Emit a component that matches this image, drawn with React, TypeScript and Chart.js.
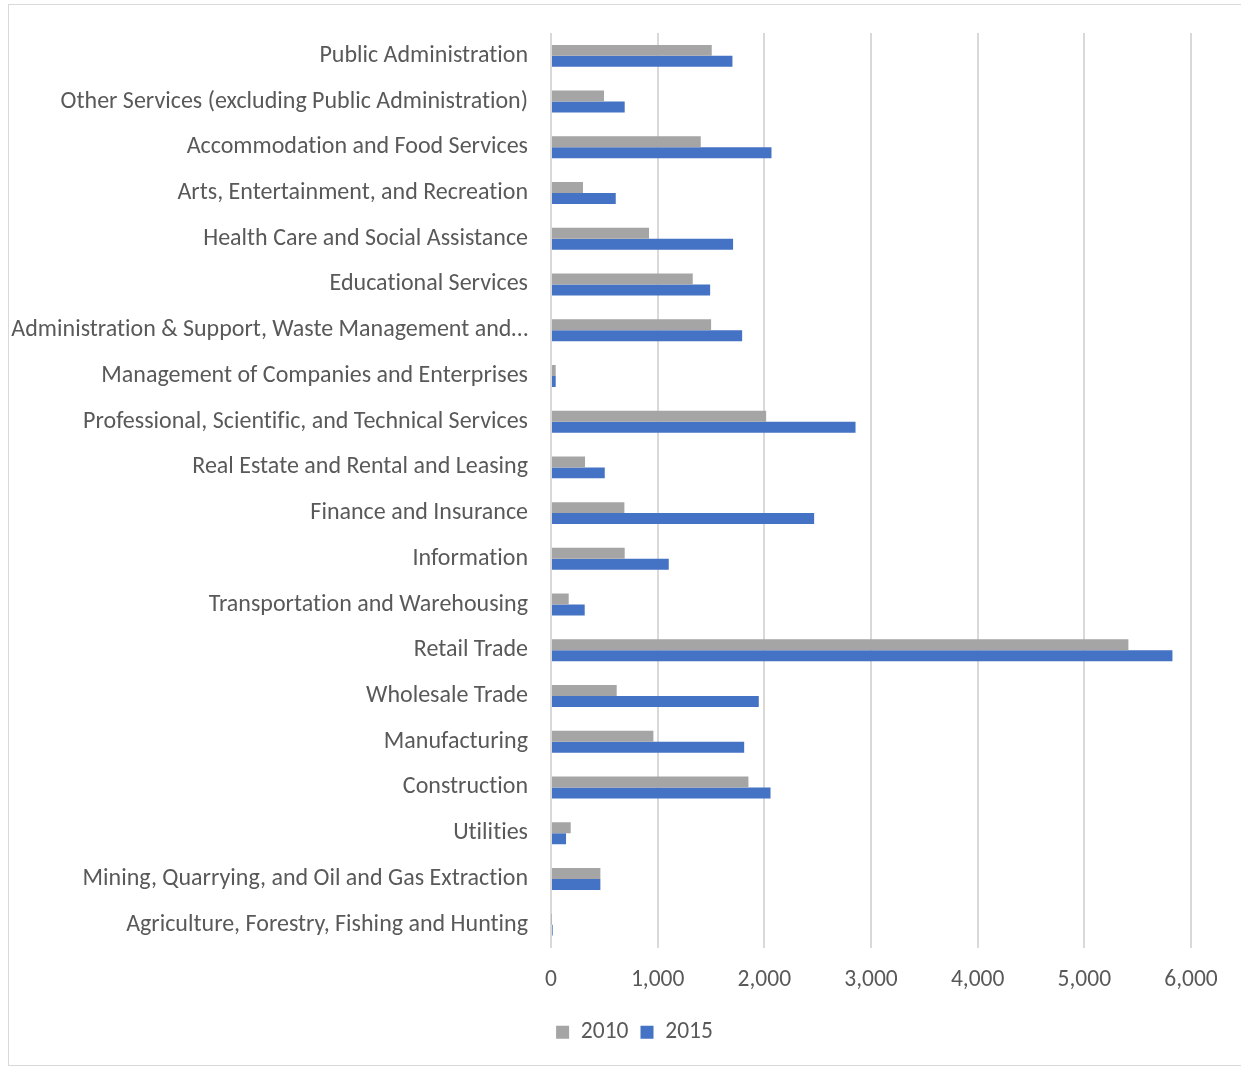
import React, { useEffect, useRef } from "react";
import { Chart, registerables } from "chart.js";

Chart.register(...registerables);

const categories: string[] = [
  "Public Administration",
  "Other Services (excluding Public Administration)",
  "Accommodation and Food Services",
  "Arts, Entertainment, and Recreation",
  "Health Care and Social Assistance",
  "Educational Services",
  "Administration & Support, Waste Management and…",
  "Management of Companies and Enterprises",
  "Professional, Scientific, and Technical Services",
  "Real Estate and Rental and Leasing",
  "Finance and Insurance",
  "Information",
  "Transportation and Warehousing",
  "Retail Trade",
  "Wholesale Trade",
  "Manufacturing",
  "Construction",
  "Utilities",
  "Mining, Quarrying, and Oil and Gas Extraction",
  "Agriculture, Forestry, Fishing and Hunting",
];

const values2010: number[] = [
  1507, 497, 1404, 300, 919, 1329, 1501, 44, 2017, 319, 688, 691, 166, 5413,
  616, 960, 1851, 185, 463, 4,
];

const values2015: number[] = [
  1701, 691, 2067, 607, 1707, 1492, 1792, 44, 2855, 504, 2467, 1104, 316, 5826,
  1948, 1811, 2058, 141, 463, 16,
];

const seriesNames: string[] = ["2010", "2015"];
const xTicks: number[] = [0, 1000, 2000, 3000, 4000, 5000, 6000];

const FONT = "Carlito, Lato, 'Open Sans', sans-serif";
const TEXT = "#595959";

const noLigatures = {
  id: "noLigatures",
  beforeDraw(chart: any) {
    try {
      (chart.ctx as any).textRendering = "optimizeSpeed";
    } catch (e) {}
  },
};

const legendShift = {
  id: "legendShift",
  afterLayout(chart: any) {
    const lg = chart.legend;
    if (lg) {
      lg.left += 39;
      lg.right += 39;
    }
  },
};

export default function App() {
  const ref = useRef<HTMLCanvasElement | null>(null);

  useEffect(() => {
    if (!ref.current) return;
    document.body.style.margin = "0";
    const chart = new Chart(ref.current, {
      type: "bar",
      data: {
        labels: categories,
        datasets: [
          {
            label: seriesNames[0],
            data: values2010,
            backgroundColor: "#A5A5A5",
            categoryPercentage: 0.48,
            barPercentage: 1,
          },
          {
            label: seriesNames[1],
            data: values2015,
            backgroundColor: "#4472C4",
            categoryPercentage: 0.48,
            barPercentage: 1,
          },
        ],
      },
      plugins: [noLigatures, legendShift],
      options: {
        indexAxis: "y",
        animation: false,
        responsive: false,
        maintainAspectRatio: false,
        layout: { padding: { left: 0, right: 50, top: 33, bottom: 13 } },
        plugins: {
          tooltip: { enabled: false },
          legend: {
            position: "bottom",
            labels: {
              font: { family: FONT, size: 23.5 },
              color: TEXT,
              boxWidth: 13,
              boxHeight: 13,
              padding: 12,
            },
          },
        },
        scales: {
          x: {
            min: 0,
            max: 6000,
            afterBuildTicks: (scale: any) => {
              scale.ticks = xTicks.map((v) => ({ value: v }));
            },
            afterFit: (scale: any) => {
              scale.height = 61;
            },
            grid: { color: "#D9D9D9", lineWidth: 2, drawTicks: false },
            border: { display: false },
            ticks: {
              color: TEXT,
              font: { family: FONT, size: 23.5 },
              padding: 19,
              callback: (v: any) => Number(v).toLocaleString("en-US"),
            },
          },
          y: {
            afterFit: (scale: any) => {
              scale.width = 551;
              scale.paddingTop = 0;
              scale.paddingBottom = 0;
            },
            grid: { display: false, drawTicks: false },
            border: { display: false },
            ticks: {
              color: TEXT,
              font: { family: FONT, size: 24 },
              padding: 23,
              autoSkip: false,
            },
          },
        },
      },
    });
    return () => chart.destroy();
  }, []);

  return (
    <div style={{ position: "relative", width: 1241, height: 1067, background: "#fff" }}>
      <div
        style={{
          position: "absolute",
          left: 8,
          top: 4,
          width: 1240,
          height: 1062,
          border: "1px solid #D9D9D9",
          boxSizing: "border-box",
        }}
      />
      <canvas
        ref={ref}
        width={1241}
        height={1067}
        style={{ position: "absolute", left: 0, top: 0, width: 1241, height: 1067 }}
      />
    </div>
  );
}
